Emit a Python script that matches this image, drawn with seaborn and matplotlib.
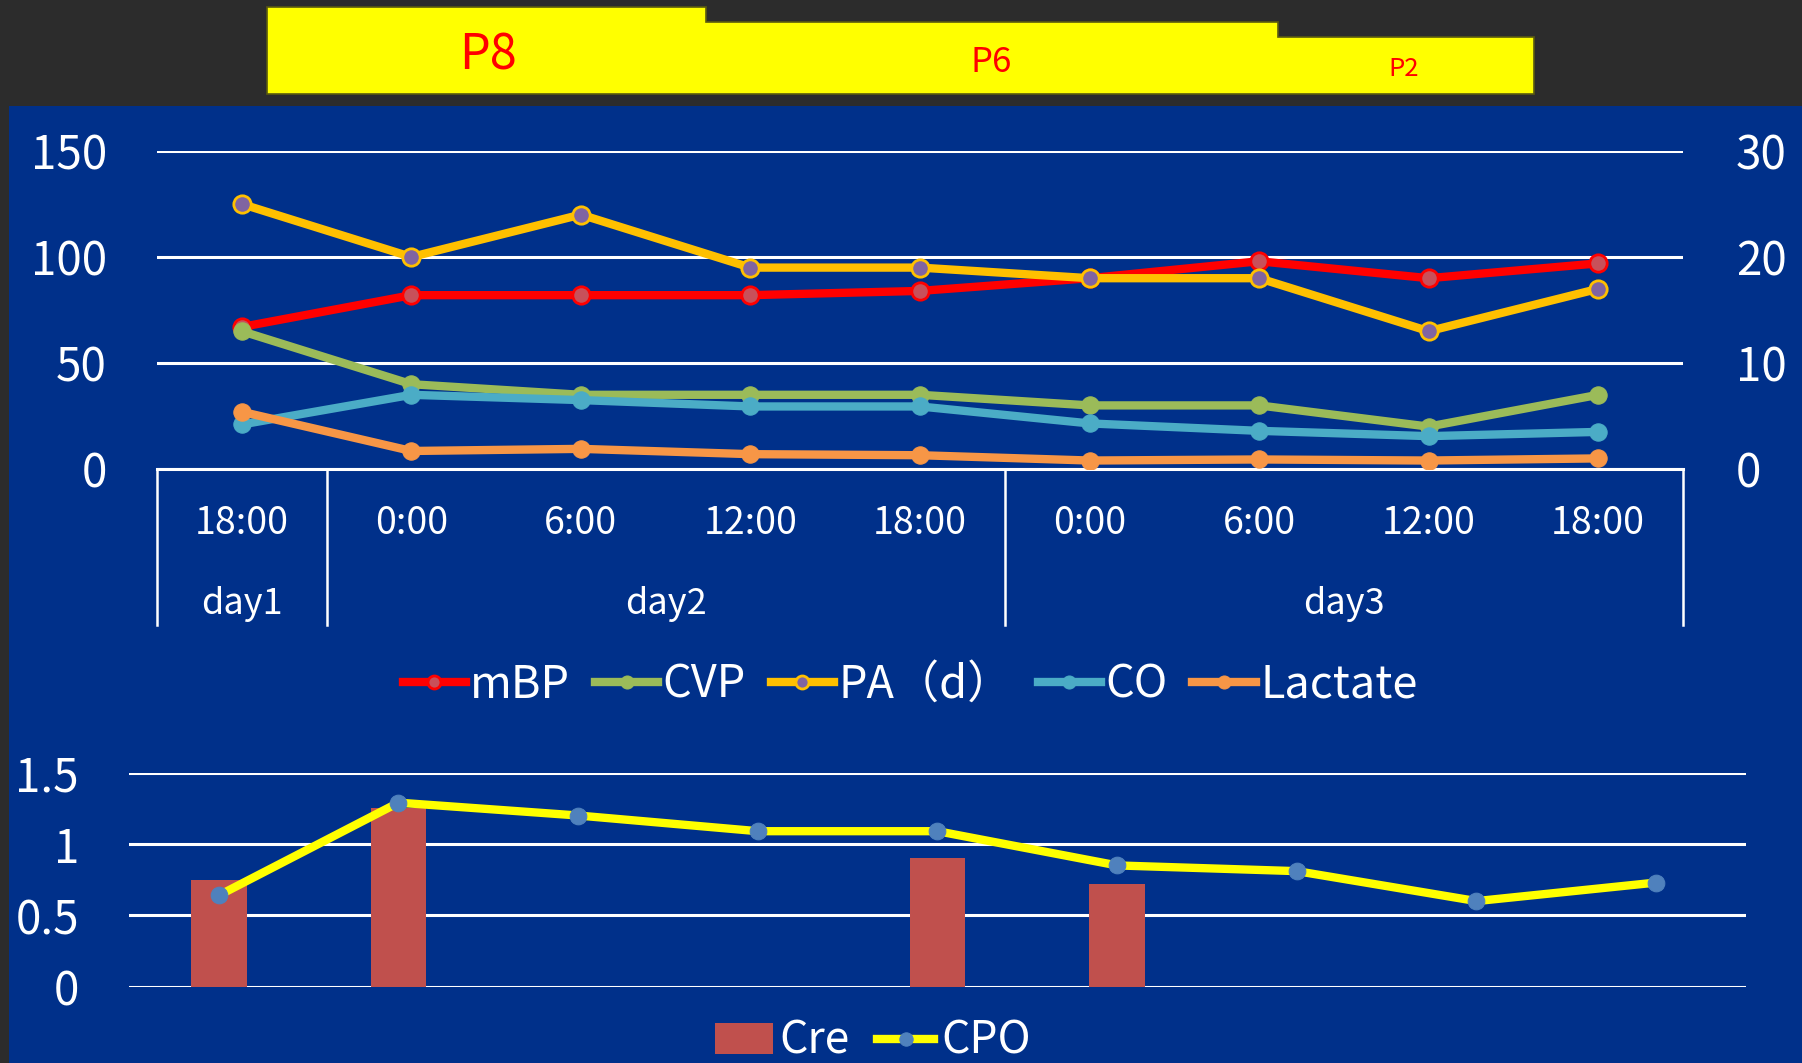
import numpy as np
import matplotlib
matplotlib.use('Agg')
import matplotlib.pyplot as plt
import matplotlib.transforms as mtransforms
from matplotlib.patches import Rectangle, Polygon
import seaborn as sns

# ---------------- data ----------------
times = ['18:00', '0:00', '6:00', '12:00', '18:00', '0:00', '6:00', '12:00', '18:00']
days = ['day1', 'day2', 'day3']
day_counts = [1, 4, 4]

mbp = [67, 82, 82, 82, 84, 90, 98, 90, 97]            # left axis
cvp = [13, 8, 7, 7, 7, 6, 6, 4, 7]                    # right axis
pa_d = [25, 20, 24, 19, 19, 18, 18, 13, 17]           # right axis
co = [4.2, 7.0, 6.5, 5.9, 5.9, 4.3, 3.6, 3.1, 3.5]    # right axis
lactate = [5.4, 1.7, 1.9, 1.4, 1.3, 0.8, 0.9, 0.8, 1.0]  # right axis

cre = [0.75, 1.25, np.nan, np.nan, 0.90, 0.72, np.nan, np.nan, np.nan]
cpo = [0.64, 1.29, 1.20, 1.09, 1.09, 0.85, 0.81, 0.60, 0.73]

left_ticks = [0, 50, 100, 150]
right_ticks = [0, 10, 20, 30]
bottom_ticks = [0, 0.5, 1, 1.5]
bottom_tick_labels = ['0', '0.5', '1', '1.5']

phase_labels = ['P8', 'P6', 'P2']

# ---------------- style ----------------
plt.rcParams['font.family'] = ['Noto Sans CJK JP', 'DejaVu Sans']
BLUE = '#00308A'
DARK = '#2c2c2c'
WHITE = 'white'

W, H = 1802, 1063
fig = plt.figure(figsize=(W / 100, H / 100), dpi=100)
fig.patch.set_facecolor(DARK)


def fx(px):
    return px / W


def fy(py):
    return 1 - py / H


# blue panel
fig.add_artist(Rectangle((fx(9), 0), 1 - fx(9), fy(106), transform=fig.transFigure,
                         facecolor=BLUE, edgecolor='none', zorder=-5))

# yellow phase banner (decoration)
seg_x = [267, 706, 1278, 1534]
seg_top = [7, 22, 37]
bot = 94
pts = [(seg_x[0], bot), (seg_x[0], seg_top[0])]
for i in range(3):
    pts.append((seg_x[i], seg_top[i]))
    pts.append((seg_x[i + 1], seg_top[i]))
pts.append((seg_x[-1], bot))
fig.add_artist(Polygon([(fx(a), fy(b)) for a, b in pts], closed=True, transform=fig.transFigure,
                       facecolor='#FFFF00', edgecolor='#5a5a10', lw=1.2, zorder=-4))
label_pos = [(488, 56, 35), (991, 63, 25), (1404, 69, 18.5)]
for lab, (px, py, fs) in zip(phase_labels, label_pos):
    fig.text(fx(px), fy(py), lab, color='#FF0000', fontsize=fs, ha='center', va='center')

# ---------------- top chart ----------------
ax = fig.add_axes([fx(157), fy(469), fx(1683) - fx(157), fy(151) - fy(469)])
ax.set_facecolor('none')
ax2 = ax.twinx()
ax2.set_facecolor('none')
x = np.arange(len(times))

LW = 6
MS = 12.5
sns.lineplot(x=x, y=mbp, ax=ax, color='#FF0000', linewidth=LW, marker='o', markersize=MS,
             markerfacecolor='#C8505A', markeredgecolor='#FF0000', markeredgewidth=2,
             label='mBP', legend=False)
sns.lineplot(x=x, y=cvp, ax=ax2, color='#9BBB59', linewidth=LW, marker='o', markersize=MS,
             markerfacecolor='#9BBB59', markeredgecolor='#9BBB59', label='CVP', legend=False)
sns.lineplot(x=x, y=pa_d, ax=ax2, color='#FFC000', linewidth=LW, marker='o', markersize=MS,
             markerfacecolor='#8064A2', markeredgecolor='#FFC000', markeredgewidth=2,
             label='PA（d）', legend=False)
sns.lineplot(x=x, y=co, ax=ax2, color='#4BACC6', linewidth=LW, marker='o', markersize=MS,
             markerfacecolor='#4BACC6', markeredgecolor='#4BACC6', label='CO', legend=False)
sns.lineplot(x=x, y=lactate, ax=ax2, color='#F79646', linewidth=LW, marker='o', markersize=MS,
             markerfacecolor='#F79646', markeredgecolor='#F79646', label='Lactate', legend=False)

ax.set_xlim(-0.5, len(times) - 0.5)
ax.set_ylim(0, 150)
ax2.set_ylim(0, 30)
ax.set_xticks([])
ax.set_yticks(left_ticks)
ax.set_yticklabels([str(t) for t in left_ticks])
ax2.set_yticks(right_ticks)
ax2.set_yticklabels([str(t) for t in right_ticks])
ax.tick_params(axis='y', length=0, pad=36, labelsize=33, labelcolor=WHITE)
ax2.tick_params(axis='y', length=0, pad=38, labelsize=33, labelcolor=WHITE)
ax.set_xlabel('')
ax.set_ylabel('')
ax2.set_ylabel('')
ax.yaxis.grid(True, color=WHITE, lw=2.2)
ax.set_axisbelow(True)
for s in ['top', 'left', 'right']:
    ax.spines[s].set_visible(False)
for s in ax2.spines.values():
    s.set_visible(False)
ax.spines['bottom'].set_color(WHITE)
ax.spines['bottom'].set_linewidth(2.2)

# multi-level category table
trans = mtransforms.blended_transform_factory(ax.transData, ax.transAxes)
bounds = np.concatenate([[0], np.cumsum(day_counts)]) - 0.5
for b in bounds:
    ax.plot([b, b], [0, -0.49], transform=trans, color=WHITE, lw=1.8, clip_on=False)
for i, t in enumerate(times):
    ax.text(i, -0.172, t, transform=trans, ha='center', va='center', fontsize=27, color=WHITE)
for d, c in zip(days, (bounds[:-1] + bounds[1:]) / 2):
    ax.text(c, -0.425, d, transform=trans, ha='center', va='center', fontsize=26, color=WHITE)

h1, l1 = ax.get_legend_handles_labels()
h2, l2 = ax2.get_legend_handles_labels()
fig.legend(h1 + h2, l1 + l2, loc='center', bbox_to_anchor=(fx(910), fy(685)), ncol=5,
           frameon=False, fontsize=32.5, labelcolor=WHITE, handlelength=1.4,
           handletextpad=0.1, columnspacing=0.55, borderpad=0, markerscale=0.75)

# ---------------- bottom chart ----------------
bx = fig.add_axes([fx(129), fy(986.7), fx(1746) - fx(129), fy(772.7) - fy(986.7)])
bx.set_facecolor('none')
sns.barplot(x=x, y=cre, ax=bx, native_scale=True, width=0.31, color='#C0504D',
            saturation=1, errorbar=None, label='Cre')
sns.lineplot(x=x, y=cpo, ax=bx, color='#FFFF00', linewidth=LW, marker='o', markersize=12,
             markerfacecolor='#4F81BD', markeredgecolor='#4F81BD', label='CPO', legend=False)
if bx.get_legend() is not None:
    bx.get_legend().remove()
bx.set_xlim(-0.5, len(times) - 0.5)
bx.set_ylim(0, 1.5)
bx.set_xticks([])
bx.set_yticks(bottom_ticks)
bx.set_yticklabels(bottom_tick_labels)
bx.tick_params(axis='y', length=0, pad=36, labelsize=33, labelcolor=WHITE)
bx.set_xlabel('')
bx.set_ylabel('')
bx.yaxis.grid(True, color=WHITE, lw=2.2)
bx.set_axisbelow(True)
for s in bx.spines.values():
    s.set_visible(False)

hb, lb = bx.get_legend_handles_labels()
order = [lb.index('Cre'), lb.index('CPO')]
fig.legend([hb[i] for i in order], [lb[i] for i in order], loc='center',
           bbox_to_anchor=(fx(873), fy(1041)), ncol=2,
           frameon=False, fontsize=32, labelcolor=WHITE, handlelength=1.3,
           handleheight=0.67, handletextpad=0.15, columnspacing=0.6, borderpad=0,
           markerscale=0.8)

fig.savefig('out.png', dpi=100, facecolor=fig.get_facecolor())
